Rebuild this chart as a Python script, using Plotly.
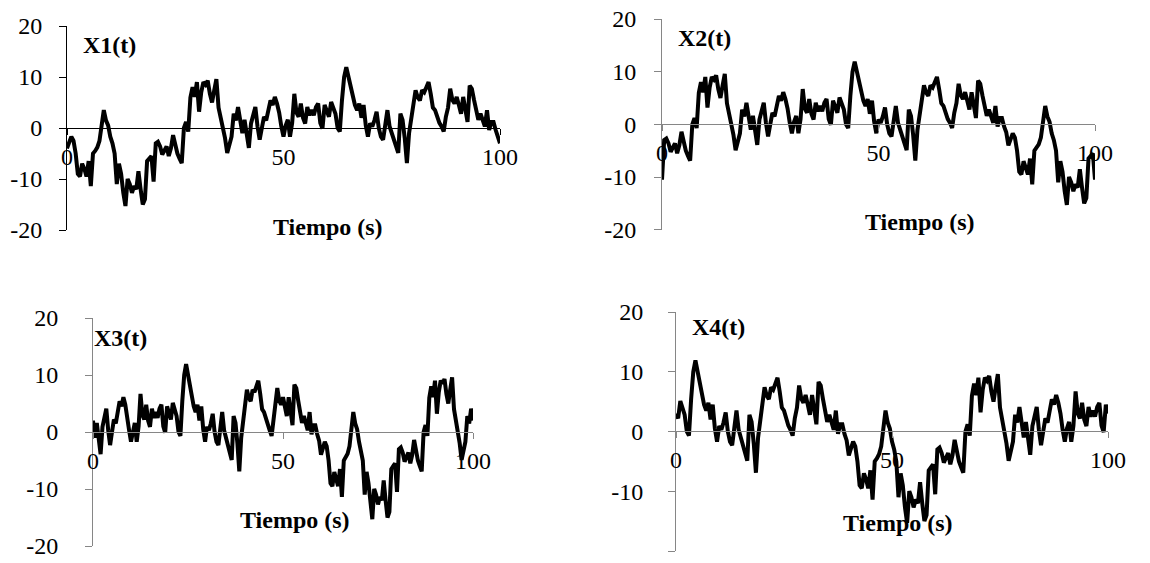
import plotly.graph_objects as go

# ---------------- data ----------------
tiempo = [i * 0.5 for i in range(201)]

x1 = [-4, -3, -1.7, -2.5, -5, -9, -9.5, -7, -8, -9.5,
      -6.5, -11.4, -5, -4.5, -3.8, -2.5, 0.5, 3.5, 1.5, 0.5,
      -1.7, -3, -5, -11, -7, -9, -12.7, -15.3, -10, -11,
      -12.7, -11.4, -12, -8.5, -12, -15, -14, -6.5, -6, -5.5,
      -10.5, -3, -2.7, -3.6, -5.2, -4.5, -3.6, -5.5, -4, -1.4,
      -3.5, -5, -6, -6.9, 0, 1.2, -0.7, 6, 8, 6.1,
      9, 3.2, 7, 9, 8.5, 9.3, 6.7, 5, 7.4, 9.6,
      4, 2.2, 0.3, -2, -4.9, -3.5, -1.7, 2.8, 1.5, 4.1,
      2, -1, 1.6, -1, -3.9, 0.9, 2.5, 4.1, 0.3, -2.3,
      0, 2.2, 1.5, 3.5, 5.4, 4.5, 6.1, 4.8, 3, 0.3,
      -1.7, 0.5, 1.6, -1.7, 1, 6.7, 3, 2.2, 4.8, 2,
      0.9, 4.1, 2.5, 3.5, 2.5, 4.1, 4.8, 1, -0.1, 4.5,
      3, 2.2, 5.1, 4, 2.8, 0, -0.7, 5.4, 10, 11.9,
      10, 8.7, 6.7, 4.5, 3.5, 4.8, 2, 4.5, 0.5, -1.7,
      0.9, 0.3, 1.5, 3.2, 0, -1.7, -2.3, 1, 3.5, 0.3,
      -1, -2, -3, -4.9, 2.8, 1.6, -2, -6.9, -1, 1.6,
      4.5, 7.4, 6, 5.4, 7.4, 7, 8, 9, 6.7, 4,
      3.5, 2.2, 1, 0.3, -0.7, 2.2, 4, 7.7, 5.5, 4.8,
      6.1, 4.5, 2.8, 6.1, 3, 1.2, 8.3, 7.7, 5.5, 3.5,
      1.6, 2.8, 1.5, 0.3, 3.5, -0.4, 1.2, 1.2, -0.4, -1.5,
      -3]

x2 = [-10.5, -3, -2.7, -3.6, -5.2, -4.5, -3.6, -5.5, -4, -1.4,
      -3.5, -5, -6, -6.9, 0, 1.2, -0.7, 6, 8, 6.1,
      9, 3.2, 7, 9, 8.5, 9.3, 6.7, 5, 7.4, 9.6,
      4, 2.2, 0.3, -2, -4.9, -3.5, -1.7, 2.8, 1.5, 4.1,
      2, -1, 1.6, -1, -3.9, 0.9, 2.5, 4.1, 0.3, -2.3,
      0, 2.2, 1.5, 3.5, 5.4, 4.5, 6.1, 4.8, 3, 0.3,
      -1.7, 0.5, 1.6, -1.7, 1, 6.7, 3, 2.2, 4.8, 2,
      0.9, 4.1, 2.5, 3.5, 2.5, 4.1, 4.8, 1, -0.1, 4.5,
      3, 2.2, 5.1, 4, 2.8, 0, -0.7, 5.4, 10, 11.9,
      10, 8.7, 6.7, 4.5, 3.5, 4.8, 2, 4.5, 0.5, -1.7,
      0.9, 0.3, 1.5, 3.2, 0, -1.7, -2.3, 1, 3.5, 0.3,
      -1, -2, -3, -4.9, 2.8, 1.6, -2, -6.9, -1, 1.6,
      4.5, 7.4, 6, 5.4, 7.4, 7, 8, 9, 6.7, 4,
      3.5, 2.2, 1, 0.3, -0.7, 2.2, 4, 7.7, 5.5, 4.8,
      6.1, 4.5, 2.8, 6.1, 3, 1.2, 8.3, 7.7, 5.5, 3.5,
      1.6, 2.8, 1.5, 0.3, 3.5, -0.4, 1.2, 1.2, -0.4, -1.5,
      -4, -3, -1.7, -2.5, -5, -9, -9.5, -7, -8, -9.5,
      -6.5, -11.4, -5, -4.5, -3.8, -2.5, 0.5, 3.5, 1.5, 0.5,
      -1.7, -3, -5, -11, -7, -9, -12.7, -15.3, -10, -11,
      -12.7, -11.4, -12, -8.5, -12, -15, -14, -6.5, -6, -5.5,
      -10.5]

x3 = [2, -1, 1.6, -1, -3.9, 0.9, 2.5, 4.1, 0.3, -2.3,
      0, 2.2, 1.5, 3.5, 5.4, 4.5, 6.1, 4.8, 3, 0.3,
      -1.7, 0.5, 1.6, -1.7, 1, 6.7, 3, 2.2, 4.8, 2,
      0.9, 4.1, 2.5, 3.5, 2.5, 4.1, 4.8, 1, -0.1, 4.5,
      3, 2.2, 5.1, 4, 2.8, 0, -0.7, 5.4, 10, 11.9,
      10, 8.7, 6.7, 4.5, 3.5, 4.8, 2, 4.5, 0.5, -1.7,
      0.9, 0.3, 1.5, 3.2, 0, -1.7, -2.3, 1, 3.5, 0.3,
      -1, -2, -3, -4.9, 2.8, 1.6, -2, -6.9, -1, 1.6,
      4.5, 7.4, 6, 5.4, 7.4, 7, 8, 9, 6.7, 4,
      3.5, 2.2, 1, 0.3, -0.7, 2.2, 4, 7.7, 5.5, 4.8,
      6.1, 4.5, 2.8, 6.1, 3, 1.2, 8.3, 7.7, 5.5, 3.5,
      1.6, 2.8, 1.5, 0.3, 3.5, -0.4, 1.2, 1.2, -0.4, -1.5,
      -4, -3, -1.7, -2.5, -5, -9, -9.5, -7, -8, -9.5,
      -6.5, -11.4, -5, -4.5, -3.8, -2.5, 0.5, 3.5, 1.5, 0.5,
      -1.7, -3, -5, -11, -7, -9, -12.7, -15.3, -10, -11,
      -12.7, -11.4, -12, -8.5, -12, -15, -14, -6.5, -6, -5.5,
      -10.5, -3, -2.7, -3.6, -5.2, -4.5, -3.6, -5.5, -4, -1.4,
      -3.5, -5, -6, -6.9, 0, 1.2, -0.7, 6, 8, 6.1,
      9, 3.2, 7, 9, 8.5, 9.3, 6.7, 5, 7.4, 9.6,
      4, 2.2, 0.3, -2, -4.9, -3.5, -1.7, 2.8, 1.5, 4.1,
      2]

x4 = [3, 2.2, 5.1, 4, 2.8, 0, -0.7, 5.4, 10, 11.9,
      10, 8.7, 6.7, 4.5, 3.5, 4.8, 2, 4.5, 0.5, -1.7,
      0.9, 0.3, 1.5, 3.2, 0, -1.7, -2.3, 1, 3.5, 0.3,
      -1, -2, -3, -4.9, 2.8, 1.6, -2, -6.9, -1, 1.6,
      4.5, 7.4, 6, 5.4, 7.4, 7, 8, 9, 6.7, 4,
      3.5, 2.2, 1, 0.3, -0.7, 2.2, 4, 7.7, 5.5, 4.8,
      6.1, 4.5, 2.8, 6.1, 3, 1.2, 8.3, 7.7, 5.5, 3.5,
      1.6, 2.8, 1.5, 0.3, 3.5, -0.4, 1.2, 1.2, -0.4, -1.5,
      -4, -3, -1.7, -2.5, -5, -9, -9.5, -7, -8, -9.5,
      -6.5, -11.4, -5, -4.5, -3.8, -2.5, 0.5, 3.5, 1.5, 0.5,
      -1.7, -3, -5, -11, -7, -9, -12.7, -15.3, -10, -11,
      -12.7, -11.4, -12, -8.5, -12, -15, -14, -6.5, -6, -5.5,
      -10.5, -3, -2.7, -3.6, -5.2, -4.5, -3.6, -5.5, -4, -1.4,
      -3.5, -5, -6, -6.9, 0, 1.2, -0.7, 6, 8, 6.1,
      9, 3.2, 7, 9, 8.5, 9.3, 6.7, 5, 7.4, 9.6,
      4, 2.2, 0.3, -2, -4.9, -3.5, -1.7, 2.8, 1.5, 4.1,
      2, -1, 1.6, -1, -3.9, 0.9, 2.5, 4.1, 0.3, -2.3,
      0, 2.2, 1.5, 3.5, 5.4, 4.5, 6.1, 4.8, 3, 0.3,
      -1.7, 0.5, 1.6, -1.7, 1, 6.7, 3, 2.2, 4.8, 2,
      0.9, 4.1, 2.5, 3.5, 2.5, 4.1, 4.8, 1, -0.1, 4.5,
      3]

series_names = ["X1(t)", "X2(t)", "X3(t)", "X4(t)"]
x_tick_vals = [0, 50, 100]
x_tick_text = ["0", "50", "100"]
y_tick_vals = [-20, -10, 0, 10, 20]
y_tick_text = ["-20", "-10", "0", "10", "20"]
x_title = "Tiempo (s)"

# ---------------- layout (pixel geometry) ----------------
W, H = 1150, 563
FONT = "Liberation Serif"

panels = [
    dict(data=x1, xl=67, xr=500, yt=26, yb=230, y0=128, col="#000000",
         lab=(81, 45), tit=(328, 227), ysd=12),
    dict(data=x2, xl=662, xr=1095, yt=19, yb=229.7, y0=124.3, col="#868686",
         lab=(676, 38), tit=(920, 222), ysd=13),
    dict(data=x3, xl=93, xr=473, yt=318, yb=546, y0=432, col="#868686",
         lab=(92, 338), tit=(295, 520), ysd=22),
    dict(data=x4, xl=676, xr=1108, yt=312, yb=551, y0=431, col="#868686",
         lab=(690, 327), tit=(898, 523), ysd=20),
]

fig = go.Figure()
annotations = []
for k, p in enumerate(panels):
    sfx = "" if k == 0 else str(k + 1)
    xa, ya = "x" + sfx, "y" + sfx
    fig.add_trace(go.Scatter(
        x=tiempo, y=p["data"], mode="lines",
        line=dict(color="black", width=4),
        xaxis=xa, yaxis=ya, showlegend=False, hoverinfo="skip"))
    fig.layout["xaxis" + sfx] = dict(
        domain=[p["xl"] / W, p["xr"] / W], range=[0, 100],
        anchor="free", position=1 - p["y0"] / H, automargin=False,
        showline=True, linecolor=p["col"], linewidth=1,
        ticks="outside", ticklen=6, tickcolor=p["col"], tickwidth=1,
        tickvals=x_tick_vals, ticktext=x_tick_text,
        showgrid=False, zeroline=False, fixedrange=True,
        tickfont=dict(family=FONT, size=24, color="black"),
        ticklabelstandoff=1)
    fig.layout["yaxis" + sfx] = dict(
        domain=[1 - p["yb"] / H, 1 - p["yt"] / H], range=[-20, 20],
        anchor=xa, automargin=False, showline=True, linecolor=p["col"], linewidth=1,
        ticks="outside", ticklen=7, tickcolor=p["col"], tickwidth=1,
        tickvals=y_tick_vals, ticktext=y_tick_text,
        showgrid=False, zeroline=False, fixedrange=True,
        tickfont=dict(family=FONT, size=24, color="black"),
        ticklabelstandoff=p["ysd"])
    annotations.append(dict(
        text="<b>%s</b>" % series_names[k], xref="paper", yref="paper",
        x=p["lab"][0] / W, y=1 - p["lab"][1] / H, xanchor="left", yanchor="middle",
        showarrow=False, font=dict(family=FONT, size=24, color="black")))
    annotations.append(dict(
        text="<b>%s</b>" % x_title, xref="paper", yref="paper",
        x=p["tit"][0] / W, y=1 - p["tit"][1] / H, xanchor="center", yanchor="middle",
        showarrow=False, font=dict(family=FONT, size=24, color="black")))

fig.update_layout(
    width=W, height=H, margin=dict(l=0, r=0, t=0, b=0, autoexpand=False),
    paper_bgcolor="white", plot_bgcolor="rgba(0,0,0,0)", hovermode=False,
    annotations=annotations, showlegend=False)

fig.write_html("out.html", config={"displayModeBar": False})
